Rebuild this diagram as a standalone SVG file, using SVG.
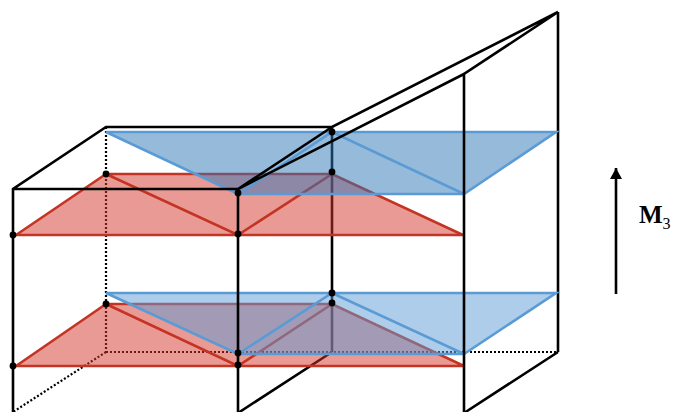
<svg xmlns="http://www.w3.org/2000/svg" width="673" height="412" viewBox="0 0 673 412">
<defs>
<marker id="ah" markerUnits="userSpaceOnUse" markerWidth="13" markerHeight="13" refX="11" refY="6" orient="auto"><path d="M0 0L11 6L0 12Z" fill="#000"/></marker>
</defs>
<style>
.k{fill:none;stroke:#000;stroke-width:2.6}
.d{fill:none;stroke:#000;stroke-width:2.2;stroke-dasharray:2 2}
.r{fill:#d6352a;fill-opacity:.5;stroke:none}
.rl{fill:none;stroke:#c43424;stroke-width:2.6}
.b1{fill:#2e75b6;fill-opacity:.5;stroke:none}
.b2{fill:#5b9bd5;fill-opacity:.5;stroke:none}
.bl{fill:none;stroke:#5b9bd5;stroke-width:2.6}
.dot{fill:#000}
text{font-family:"Liberation Serif","Times New Roman",serif;fill:#000}
</style>
<rect width="673" height="412" fill="#fff"/>
<g id="connectors-back">
<path class="k" d="M332 127V352M332 352L238 413M558 352L464 413M558 12V352"/>
<path class="d" d="M106 127V352M106 352H558M106 352L13 412"/>
</g>
<g id="plane-red-bottom">
<path class="r" d="M16 366L106 304H332L464 366Z"/>
<path class="rl" d="M16 366L106 304H332L464 366ZM106 304L238 366L332 304"/>
</g>
<g id="plane-blue-bottom">
<path class="b2" d="M106 293H556L464 354H238Z"/>
<path class="bl" d="M106 293H556L464 354L332 293L238 354L106 293ZM238 354H464"/>
</g>
<g id="plane-red-top">
<path class="r" d="M16 235L106 174H332L463 235Z"/>
<path class="rl" d="M16 235L106 174H332L463 235ZM106 174L238 235L332 174"/>
</g>
<g id="plane-blue-top">
<path class="b1" d="M106 132H556L464 194H238Z"/>
<path class="bl" d="M106 132H556L464 194L332 132L238 194L106 132ZM238 194H464"/>
</g>
<g id="connectors">
<path class="k" d="M13 412V189L106 127H332L558 12L464 74V412M13 189H238L332 127M238 189V412M238 189L464 74"/>
<path fill="none" stroke="#000" stroke-width="2.6" marker-end="url(#ah)" d="M616 294V168"/>
</g>
<g id="dots">
<circle class="dot" cx="13" cy="235" r="3.4"/>
<circle class="dot" cx="106" cy="174" r="3.4"/>
<circle class="dot" cx="238" cy="234" r="3.4"/>
<circle class="dot" cx="238" cy="193" r="3.4"/>
<circle class="dot" cx="332" cy="132" r="3.4"/>
<circle class="dot" cx="332" cy="172" r="3.4"/>
<circle class="dot" cx="13" cy="366" r="3.4"/>
<circle class="dot" cx="106" cy="304" r="3.4"/>
<circle class="dot" cx="238" cy="365" r="3.4"/>
<circle class="dot" cx="238" cy="353" r="3.4"/>
<circle class="dot" cx="332" cy="293" r="3.4"/>
<circle class="dot" cx="332" cy="303" r="3.4"/>
</g>
<g id="label"><text x="639" y="223" font-size="25" font-weight="bold">M<tspan font-size="16" font-weight="normal" dy="6">3</tspan></text></g>
</svg>
